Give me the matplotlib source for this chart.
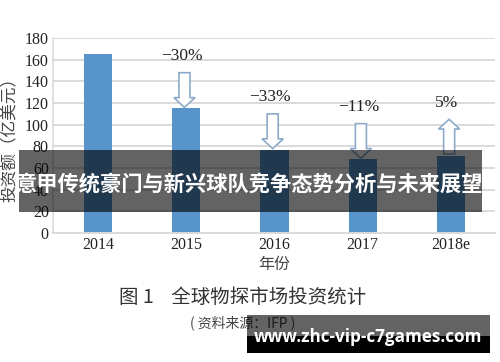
import matplotlib
matplotlib.use("Agg")
import matplotlib.pyplot as plt
from matplotlib.patches import FancyArrow, Rectangle

# data
years = ["2014", "2015", "2016", "2017", "2018e"]
invest = [165, 115, 77, 68, 71]
change = [None, "\u221230%", "\u221233%", "\u221211%", "5%"]
y_ticks = [0, 20, 40, 60, 80, 100, 120, 140, 160, 180]

blue = "#5694c9"
arrow_edge = "#8eaacb"
serif = ["Liberation Serif", "DejaVu Serif"]
cjk = ["Noto Sans CJK SC", "DejaVu Sans"]

fig = plt.figure(figsize=(5, 3.62), dpi=100)
ax = fig.add_axes([0.106, 0.356, 0.884, 0.539])

x = list(range(len(years)))
ax.bar(x, invest, width=0.32, color=blue, zorder=2)

ax.set_xlim(-0.51, 4.5)
ax.set_ylim(0, 180)
ax.set_yticks(y_ticks)
ax.set_xticks(x)
ax.set_xticklabels(years)
for lab in ax.get_xticklabels() + ax.get_yticklabels():
    lab.set_family(serif)
    lab.set_fontsize(11.5)
    lab.set_color("#222222")
ax.tick_params(length=0, pad=3)
ax.yaxis.grid(True, color="#dadada", linewidth=1.4, zorder=0)
ax.set_axisbelow(True)
for s in ["top", "right"]:
    ax.spines[s].set_visible(False)
ax.spines["left"].set_color("#dadada")
ax.spines["bottom"].set_color("#dadada")
ax.spines["left"].set_linewidth(1.2)
ax.spines["bottom"].set_linewidth(1.4)

# hollow block arrows with the change labels
arr_len = 32
for i, lab in enumerate(change):
    if lab is None:
        continue
    v = invest[i]
    xi = i - 0.02
    if lab.startswith("\u2212"):
        start, d = v + 1 + arr_len, -arr_len
        top = start
    else:
        start, d = v + 2, arr_len
        top = start + d
    ax.add_patch(FancyArrow(xi, start, 0, d, width=0.125, head_width=0.24,
                            head_length=9, length_includes_head=True,
                            facecolor="white", edgecolor=arrow_edge,
                            linewidth=1.2, zorder=3))
    ax.text(xi - 0.03, top + 8, lab, ha="center", va="bottom",
            fontsize=12.5, family=serif, color="#222222")

ax.set_ylabel("投资额（亿美元）", family=cjk, fontsize=12, color="#444444",
              labelpad=4)
fig.text(0.548, 0.268, "年份", ha="center", va="center", family=cjk,
         fontsize=11.5, color="#444444")
fig.text(0.486, 0.178, "图 1    全球物探市场投资统计", ha="center", va="center",
         family=cjk, fontsize=14, color="#333333")
fig.text(0.486, 0.108, "( 资料来源：IFP )", ha="center", va="center",
         family=cjk, fontsize=10, color="#444444")

# overlay banner
fig.patches.append(Rectangle((0.038, 1 - 212 / 362), 0.926, 62 / 362,
                             transform=fig.transFigure, facecolor="black",
                             alpha=0.61, zorder=5))
fig.text(0.497, 1 - 184 / 362, "意甲传统豪门与新兴球队竞争态势分析与未来展望",
         ha="center", va="center", family=cjk, fontweight="bold",
         fontsize=15.3, color="white", zorder=6)

# bottom watermark
fig.patches.append(Rectangle((0.494, 1 - 336 / 362), 0.486, 21 / 362,
                             transform=fig.transFigure, facecolor="black",
                             alpha=0.61, zorder=5))
fig.patches.append(Rectangle((0.494, 1 - 353 / 362), 0.486, 17 / 362,
                             transform=fig.transFigure, facecolor="black",
                             zorder=5))
fig.text(0.737, 1 - 337 / 362, "www.zhc-vip-c7games.com", ha="center",
         va="center", family=["Open Sans", "DejaVu Sans"], fontweight="bold",
         fontsize=12.3, color="white", zorder=6)

fig.savefig("out.png", dpi=100)
